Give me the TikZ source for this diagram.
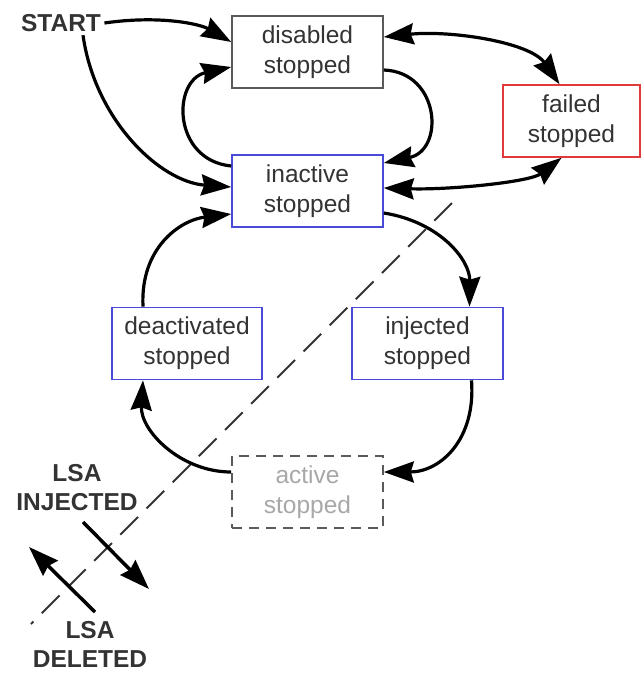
\documentclass[tikz,border=0pt]{standalone}
\usepackage{fontspec}
\setmainfont{Liberation Sans}
\usetikzlibrary{arrows.meta}
\definecolor{txt}{HTML}{333333}
\definecolor{edgegray}{HTML}{5A5A5A}
\definecolor{stblue}{HTML}{4A4AD8}
\definecolor{stred}{HTML}{E03A3A}
\definecolor{faint}{HTML}{A8A8A8}
\tikzset{
  state/.style={draw, line width=1.6pt, fill=white, minimum width=151pt, minimum height=72pt,
    align=center, inner sep=0pt, text=txt, font=\fontsize{24.5}{30}\selectfont},
  bluestate/.style={state, draw=stblue},
  lbl/.style={align=center, text=txt, font=\fontsize{24.5}{29}\selectfont\bfseries},
  trans/.style={line width=3.2pt, -{Stealth[length=30pt,width=21pt,inset=3pt]}},
  both/.style={line width=3.2pt, {Stealth[length=30pt,width=21pt,inset=3pt]}-{Stealth[length=30pt,width=21pt,inset=3pt]}},
  cut/.style={line width=2pt, dash pattern=on 25pt off 12pt, txt}
}
\begin{document}
\begin{tikzpicture}[x=1pt,y=-1pt]
\useasboundingbox (0,0) rectangle (643,673);

% boundary between stopped and injected states
\draw[cut] (452,203) -- (31,624);

% states
\node[state, draw=edgegray] (dis) at (307.5,52) {disabled\\stopped};
\node[state, draw=stred, minimum width=137pt] (fail) at (571.5,121) {failed\\stopped};
\node[bluestate] (ina) at (307.5,191) {inactive\\stopped};
\node[bluestate, minimum width=150pt] (deac) at (187,343.5) {deactivated\\stopped};
\node[bluestate] (inj) at (427.5,343.5) {injected\\stopped};
\node[state, draw=edgegray, dashed, dash pattern=on 10pt off 7pt, text=faint] (act) at (307.5,492) {active\\stopped};

\node[lbl] (start) at (61,23) {START};
\node[lbl] (lsainj) at (77,488) {LSA\\INJECTED};
\node[lbl] (lsadel) at (90,644) {LSA\\DELETED};

% connector end points
\coordinate (injA) at (83,522);
\coordinate (injB) at (149,589);
\coordinate (delA) at (95,612);
\coordinate (delB) at (29,547);

% transitions
\draw[trans] (start.east) .. controls (160,15) and (200,24) .. ([yshift=10pt]dis.west);
\draw[trans] ([xshift=22pt]start.south) .. controls (95,120) and (160,182) .. ([yshift=4pt]ina.west);
\draw[trans] ([yshift=25pt]ina.west) .. controls (172,160) and (172,80) .. ([yshift=-15pt]dis.west);
\draw[trans] ([yshift=-18pt]dis.east) .. controls (440,72) and (445,150) .. ([yshift=28pt]ina.east);
\draw[both] ([yshift=15pt]dis.east) .. controls (450,30) and (530,42) .. ([xshift=-12pt]fail.north);
\draw[both] ([yshift=3pt]ina.east) .. controls (450,190) and (530,182) .. ([xshift=-10pt]fail.south);
\draw[trans] ([yshift=-22pt]ina.east) .. controls (440,222) and (470,260) .. ([xshift=42pt]inj.north);
\draw[trans] ([xshift=44pt]inj.south) .. controls (476,440) and (440,472) .. ([yshift=20pt]act.east);
\draw[trans] ([yshift=20pt]act.west) .. controls (180,472) and (140,430) .. ([xshift=-44pt]deac.south);
\draw[trans] ([xshift=-44pt]deac.north) .. controls (140,248) and (180,220) .. ([yshift=-23pt]ina.west);

% direction of the LSA arrows
\draw[trans, line width=3.5pt] (injA) -- (injB);
\draw[trans, line width=3.5pt] (delA) -- (delB);
\end{tikzpicture}
\end{document}
